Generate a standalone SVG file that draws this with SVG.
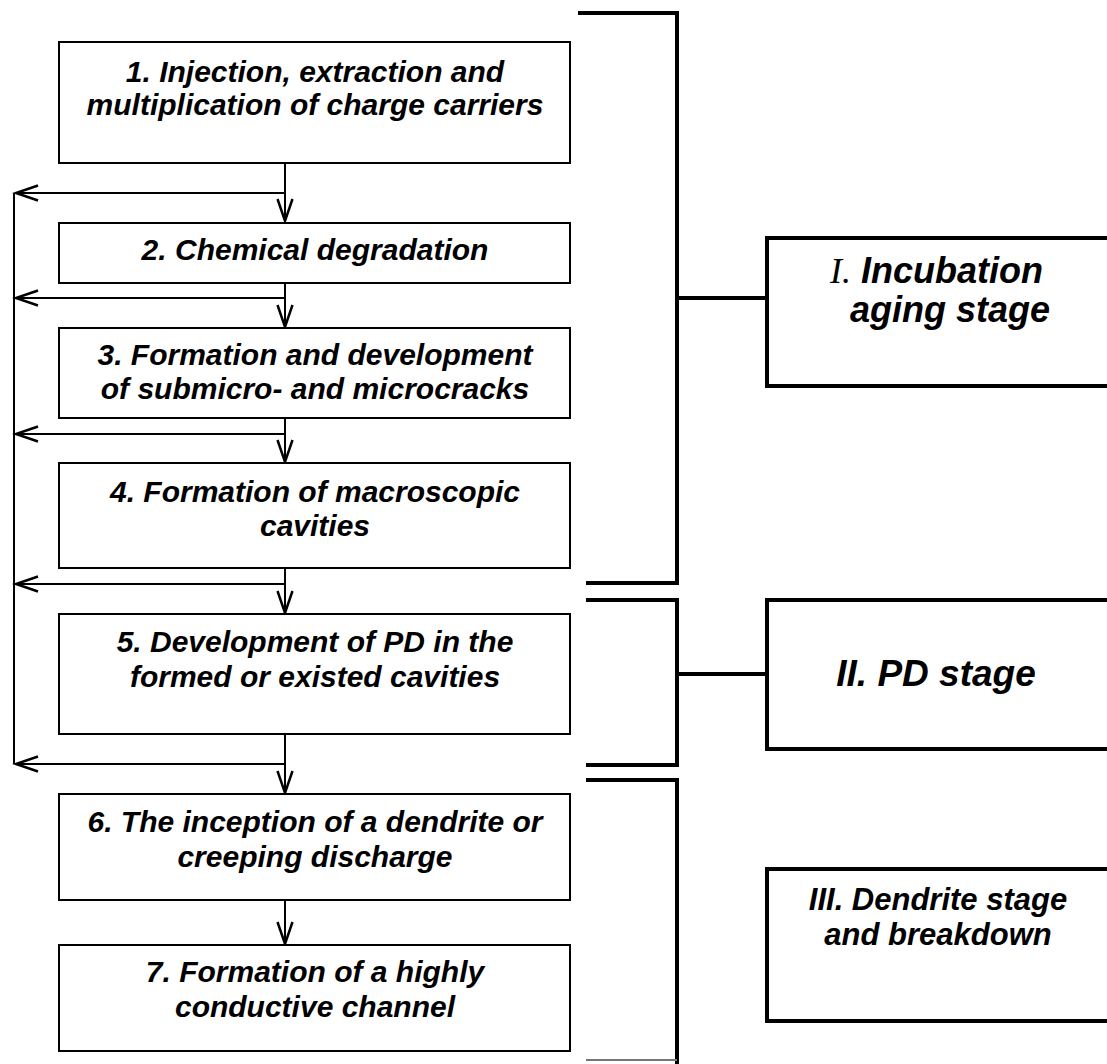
<svg xmlns="http://www.w3.org/2000/svg" width="1107" height="1064" viewBox="0 0 1107 1064">
<style>
.box{fill:#fff;stroke:#000;stroke-width:2}
.stage{fill:#fff;stroke:#000;stroke-width:4}
.br{fill:none;stroke:#000;stroke-width:4}
.con{fill:none;stroke:#000;stroke-width:2}
.t{font-family:"Liberation Sans",Arial,sans-serif;font-weight:bold;font-style:italic;font-size:30px;fill:#000;text-anchor:middle}
.s{font-family:"Liberation Sans",Arial,sans-serif;font-weight:bold;font-style:italic;fill:#000}
</style>
<defs>
<marker id="ah" markerUnits="userSpaceOnUse" markerWidth="30" markerHeight="20" viewBox="-24 -10 26 20" refX="0" refY="0" orient="auto">
<polyline points="-22,-7.5 0,0 -22,7.5" fill="none" stroke="#000" stroke-width="2.5"/>
</marker>
</defs>
<rect width="1107" height="1064" fill="#fff"/>
<g id="connectors">
<line class="con" x1="14" y1="193" x2="14" y2="764"/>
<line class="con" x1="285" y1="193" x2="16" y2="193" marker-end="url(#ah)"/>
<line class="con" x1="285" y1="298" x2="16" y2="298" marker-end="url(#ah)"/>
<line class="con" x1="285" y1="434" x2="16" y2="434" marker-end="url(#ah)"/>
<line class="con" x1="285" y1="584" x2="16" y2="584" marker-end="url(#ah)"/>
<line class="con" x1="285" y1="764" x2="16" y2="764" marker-end="url(#ah)"/>
<line class="con" x1="285" y1="163" x2="285" y2="221" marker-end="url(#ah)"/>
<line class="con" x1="285" y1="283" x2="285" y2="327" marker-end="url(#ah)"/>
<line class="con" x1="285" y1="418" x2="285" y2="462" marker-end="url(#ah)"/>
<line class="con" x1="285" y1="568" x2="285" y2="613" marker-end="url(#ah)"/>
<line class="con" x1="285" y1="734" x2="285" y2="793" marker-end="url(#ah)"/>
<line class="con" x1="285" y1="900" x2="285" y2="944" marker-end="url(#ah)"/>
<path class="br" d="M578,13 H677 V583 H586"/>
<path class="br" d="M677,298 H767"/>
<path class="br" d="M586,600 H677 V765 H586"/>
<path class="br" d="M677,674 H767"/>
<path class="br" d="M586,780 H677 V1064"/>
<path d="M586,1060 H677" fill="none" stroke="#777" stroke-width="2"/>
</g>
<g id="n1"><rect class="box" x="59" y="42" width="511" height="121"/>
<text class="t" x="315" y="82">1. Injection, extraction and</text>
<text class="t" x="315" y="115">multiplication of charge carriers</text></g>
<g id="n2"><rect class="box" x="59" y="223" width="511" height="60"/>
<text class="t" x="315" y="260">2. Chemical degradation</text></g>
<g id="n3"><rect class="box" x="59" y="328" width="511" height="90"/>
<text class="t" x="315" y="365">3. Formation and development</text>
<text class="t" x="315" y="399">of submicro- and microcracks</text></g>
<g id="n4"><rect class="box" x="59" y="463" width="511" height="105"/>
<text class="t" x="315" y="502">4. Formation of macroscopic</text>
<text class="t" x="315" y="536">cavities</text></g>
<g id="n5"><rect class="box" x="59" y="614" width="511" height="120"/>
<text class="t" x="315" y="652">5. Development of PD in the</text>
<text class="t" x="315" y="687">formed or existed cavities</text></g>
<g id="n6"><rect class="box" x="59" y="794" width="511" height="106"/>
<text class="t" x="315" y="832">6. The inception of a dendrite or</text>
<text class="t" x="315" y="867">creeping discharge</text></g>
<g id="n7"><rect class="box" x="59" y="945" width="511" height="106"/>
<text class="t" x="315" y="982">7. Formation of a highly</text>
<text class="t" x="315" y="1017">conductive channel</text></g>
<g id="stage1"><rect class="stage" x="767" y="238" width="360" height="148"/>
<text class="s" font-size="36" x="830" y="283"><tspan font-family="'Liberation Serif',serif" font-weight="normal">I.</tspan> Incubation</text>
<text class="s" font-size="36" x="850" y="322">aging stage</text></g>
<g id="stage2"><rect class="stage" x="767" y="600" width="360" height="149"/>
<text class="s" font-size="37" x="936" y="686" text-anchor="middle">II. PD stage</text></g>
<g id="stage3"><rect class="stage" x="767" y="869" width="360" height="152"/>
<text class="s" font-size="31" x="938" y="910" text-anchor="middle">III. Dendrite stage</text>
<text class="s" font-size="31" x="938" y="945" text-anchor="middle">and breakdown</text></g>
</svg>
